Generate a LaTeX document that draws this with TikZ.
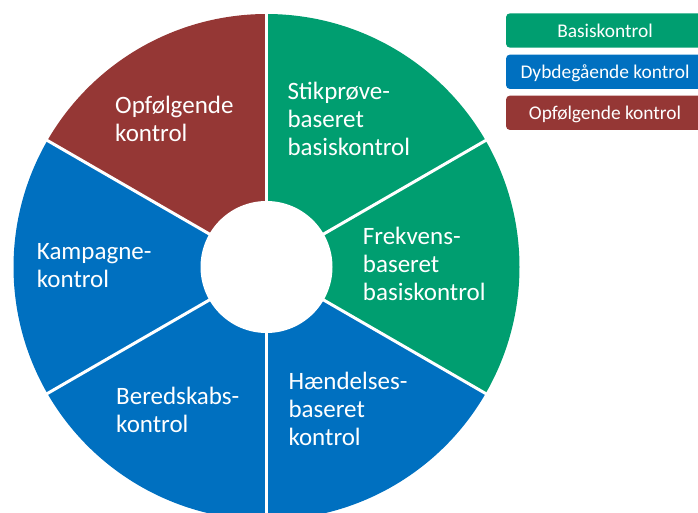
\documentclass[tikz,border=0pt]{standalone}
\usepackage{fontspec}
\setmainfont{Carlito}
\definecolor{cgreen}{RGB}{0,158,112}
\definecolor{cblue}{RGB}{0,112,192}
\definecolor{cred}{RGB}{149,55,53}
\begin{document}
\begin{tikzpicture}[x=1pt,y=1pt,
  seclabel/.style={text=white, align=left, anchor=base west, inner sep=0pt, font=\fontsize{25}{28}\selectfont},
  legbox/.style={fill=#1, rounded corners=4pt, minimum width=198pt, minimum height=34.4pt, inner sep=0pt, text=white, font=\fontsize{19.4}{22}\selectfont, text height=13.6pt, text depth=0pt},
  divider/.style={white, line width=3pt}]
\useasboundingbox (0,0) rectangle (698,512);
\clip (0,0) rectangle (698,512);
\coordinate (c) at (266.5,245);
\fill[cgreen] (c) -- ++(30:253) arc[start angle=30,end angle=90,radius=253] -- cycle;
\fill[cgreen] (c) -- ++(-30:253) arc[start angle=-30,end angle=30,radius=253] -- cycle;
\fill[cblue] (c) -- ++(-90:253) arc[start angle=-90,end angle=-30,radius=253] -- cycle;
\fill[cblue] (c) -- ++(-150:253) arc[start angle=-150,end angle=-90,radius=253] -- cycle;
\fill[cblue] (c) -- ++(150:253) arc[start angle=150,end angle=210,radius=253] -- cycle;
\fill[cred] (c) -- ++(90:253) arc[start angle=90,end angle=150,radius=253] -- cycle;
\foreach \a in {30,90,150,210,270,330} \draw[divider] (c) -- ++(\a:254);
\fill[white] (c) circle[radius=66];
\node[seclabel] (s1) at (287.3,356) {Stikprøve-\\baseret\\basiskontrol};
\node[seclabel] (s2) at (362.7,211.3) {Frekvens-\\baseret\\basiskontrol};
\node[seclabel] (s3) at (288.3,66.3) {Hændelses-\\baseret\\kontrol};
\node[seclabel] (s4) at (116,79.7) {Beredskabs-\\kontrol};
\node[seclabel] (s5) at (36.7,224.7) {Kampagne-\\kontrol};
\node[seclabel] (s6) at (115,370.3) {Opfølgende\\kontrol};
\node[legbox=cgreen] (l1) at (605,481.5) {Basiskontrol};
\node[legbox=cblue] (l2) at (605,440.2) {Dybdegående kontrol};
\node[legbox=cred] (l3) at (605,399.2) {Opfølgende kontrol};
\end{tikzpicture}
\end{document}
